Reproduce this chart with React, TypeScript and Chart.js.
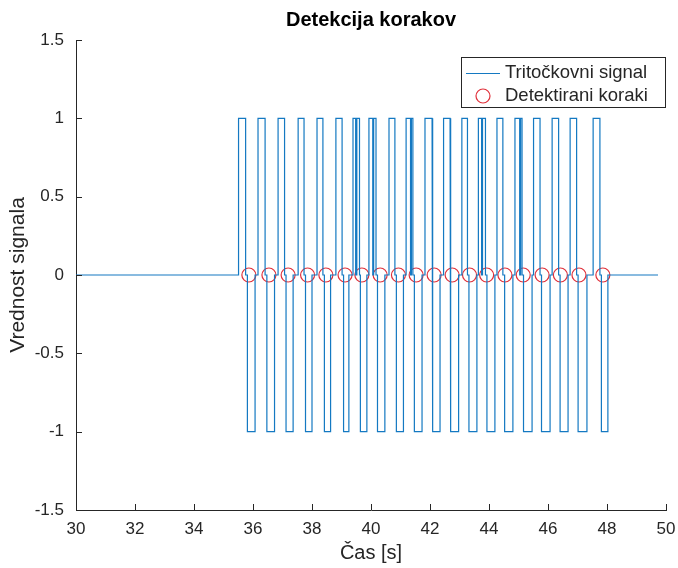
import React, { useEffect, useRef } from "react";
import { Chart, registerables } from "chart.js";

Chart.register(...registerables);

// ---- text ----
const chartTitle = "Detekcija korakov";
const xTitle = "Čas [s]";
const yTitle = "Vrednost signala";
const seriesNames = ["Tritočkovni signal", "Detektirani koraki"];

// ---- tick labels ----
const xTicks = [30, 32, 34, 36, 38, 40, 42, 44, 46, 48, 50];
const yTicks = [-1.5, -1, -0.5, 0, 0.5, 1, 1.5];

// ---- three-point signal (s) ----
const signalStart = 30.0;
const signalEnd = 49.73;
const highStart = [35.51, 36.17, 36.85, 37.53, 38.17, 38.81, 39.39, 39.93, 40.61, 41.19, 41.83, 42.46, 43.08, 43.64, 44.27, 44.88, 45.51, 46.14, 46.75, 47.53];
const highEnd = [35.75, 36.41, 37.07, 37.73, 38.37, 39.02, 39.61, 40.17, 40.81, 41.42, 42.07, 42.68, 43.27, 43.88, 44.47, 45.12, 45.73, 46.36, 46.97, 47.76];
const lowStart = [35.81, 36.47, 37.12, 37.78, 38.42, 39.07, 39.64, 40.22, 40.86, 41.47, 42.10, 42.71, 43.32, 43.93, 44.53, 45.17, 45.78, 46.41, 47.02, 47.81];
const lowEnd = [36.07, 36.73, 37.36, 38.0, 38.63, 39.25, 39.86, 40.47, 41.10, 41.73, 42.34, 42.97, 43.59, 44.20, 44.81, 45.46, 46.07, 46.68, 47.32, 48.03];
// short drops to 0 inside some of the +1 pulses
const dipStart = [39.48, 40.06, 41.34, 43.75, 45.04];
const dipEnd = [39.52, 40.09, 41.37, 43.78, 45.07];

// ---- detected steps ----
const stepTimes = [35.86, 36.54, 37.19, 37.85, 38.47, 39.12, 39.69, 40.31, 40.93, 41.53, 42.14, 42.75, 43.34, 43.92, 44.54, 45.16, 45.80, 46.42, 47.05, 47.86];
const stepValues = [0, 0, 0, 0, 0, 0, 0, 0, 0, 0, 0, 0, 0, 0, 0, 0, 0, 0, 0, 0];

const LINE_COLOR = "#1479c2";
const MARK_COLOR = "#E0303A";
const AXIS_COLOR = "#262626";
const FONT = "'Liberation Sans', Arial, Helvetica, sans-serif";

function buildSignal() {
  const pts: { x: number; y: number }[] = [{ x: signalStart, y: 0 }];
  for (let i = 0; i < highStart.length; i++) {
    pts.push({ x: highStart[i], y: 0 }, { x: highStart[i], y: 1 });
    for (let d = 0; d < dipStart.length; d++) {
      if (dipStart[d] > highStart[i] && dipStart[d] < highEnd[i]) {
        pts.push({ x: dipStart[d], y: 1 }, { x: dipStart[d], y: 0 }, { x: dipEnd[d], y: 0 }, { x: dipEnd[d], y: 1 });
      }
    }
    pts.push({ x: highEnd[i], y: 1 }, { x: highEnd[i], y: 0 });
    pts.push({ x: lowStart[i], y: 0 }, { x: lowStart[i], y: -1 });
    pts.push({ x: lowEnd[i], y: -1 }, { x: lowEnd[i], y: 0 });
  }
  pts.push({ x: signalEnd, y: 0 });
  return pts;
}

const matlabAxes = {
  id: "matlabAxes",
  afterDatasetsDraw(chart: any) {
    const { ctx, chartArea, scales } = chart;
    ctx.save();
    ctx.strokeStyle = AXIS_COLOR;
    ctx.lineWidth = 1;
    const tl = 6;
    ctx.beginPath();
    xTicks.forEach((v) => {
      const px = Math.round(scales.x.getPixelForValue(v)) + 0.5;
      ctx.moveTo(px, chartArea.bottom);
      ctx.lineTo(px, chartArea.bottom - tl);
    });
    yTicks.forEach((v) => {
      const py = Math.round(scales.y.getPixelForValue(v)) + 0.5;
      ctx.moveTo(chartArea.left, py);
      ctx.lineTo(chartArea.left + tl, py);
    });
    ctx.stroke();

    // title, centred over the axes
    ctx.fillStyle = "#000000";
    ctx.font = "bold 20px " + FONT;
    ctx.textAlign = "center";
    ctx.textBaseline = "middle";
    ctx.fillText(chartTitle, (chartArea.left + chartArea.right) / 2, chartArea.top - 20);

    // legend
    const boxR = chartArea.right;
    const boxT = chartArea.top + 17;
    const boxL = boxR - 205;
    const boxB = boxT + 51;
    ctx.fillStyle = "#ffffff";
    ctx.fillRect(boxL, boxT, boxR - boxL, boxB - boxT);
    ctx.strokeStyle = AXIS_COLOR;
    ctx.lineWidth = 1;
    ctx.strokeRect(boxL + 0.5, boxT + 0.5, boxR - boxL - 1, boxB - boxT - 1);
    const row1 = boxT + 16;
    const row2 = boxT + 39;
    ctx.strokeStyle = LINE_COLOR;
    ctx.lineWidth = 1.2;
    ctx.beginPath();
    ctx.moveTo(boxL + 5, row1 + 0.5);
    ctx.lineTo(boxL + 39, row1 + 0.5);
    ctx.stroke();
    ctx.strokeStyle = MARK_COLOR;
    ctx.beginPath();
    ctx.arc(boxL + 22, row2, 7, 0, Math.PI * 2);
    ctx.stroke();
    ctx.fillStyle = AXIS_COLOR;
    ctx.font = "18.5px " + FONT;
    ctx.textBaseline = "middle";
    ctx.textAlign = "left";
    ctx.fillText(seriesNames[0], boxL + 44, row1);
    ctx.fillText(seriesNames[1], boxL + 44, row2);
    ctx.restore();
  },
};

export default function App() {
  const ref = useRef<HTMLCanvasElement | null>(null);
  useEffect(() => {
    if (!ref.current) return;
    const chart = new Chart(ref.current, {
      type: "scatter",
      data: {
        datasets: [
          {
            label: seriesNames[0],
            data: buildSignal(),
            showLine: true,
            borderColor: LINE_COLOR,
            borderWidth: 1.2,
            pointRadius: 0,
            tension: 0,
            fill: false,
          },
          {
            label: seriesNames[1],
            data: stepTimes.map((t, i) => ({ x: t, y: stepValues[i] })),
            showLine: false,
            pointStyle: "circle",
            pointRadius: 7,
            borderColor: MARK_COLOR,
            backgroundColor: "rgba(0,0,0,0)",
            borderWidth: 1.2,
          },
        ],
      },
      options: {
        responsive: false,
        animation: false,
        layout: { padding: { left: 0, right: 12, top: 40, bottom: 0 } },
        plugins: {
          legend: { display: false },
          tooltip: { enabled: false },
          title: { display: false },
        },
        scales: {
          x: {
            type: "linear",
            min: 30,
            max: 50,
            afterBuildTicks: (s: any) => {
              s.ticks = xTicks.map((v) => ({ value: v }));
            },
            afterFit: (s: any) => {
              s.height = 58;
              s.paddingLeft = 0;
              s.paddingRight = 0;
            },
            grid: { display: false, drawTicks: false },
            border: { display: true, color: AXIS_COLOR, width: 1 },
            ticks: {
              padding: 9,
              color: AXIS_COLOR,
              font: { family: FONT, size: 17 },
              maxRotation: 0,
              callback: (v: any) => String(v),
            },
            title: {
              display: true,
              text: xTitle,
              color: AXIS_COLOR,
              font: { family: FONT, size: 20 },
              padding: { top: 0, bottom: 3 },
            },
          },
          y: {
            type: "linear",
            min: -1.5,
            max: 1.5,
            afterBuildTicks: (s: any) => {
              s.ticks = yTicks.map((v) => ({ value: v }));
            },
            afterFit: (s: any) => {
              s.width = 76;
              s.paddingTop = 0;
              s.paddingBottom = 0;
            },
            grid: { display: false, drawTicks: false },
            border: { display: true, color: AXIS_COLOR, width: 1 },
            ticks: {
              padding: 12,
              color: AXIS_COLOR,
              font: { family: FONT, size: 17 },
              callback: (v: any) => String(v),
            },
            title: {
              display: true,
              text: yTitle,
              color: AXIS_COLOR,
              font: { family: FONT, size: 21 },
              padding: { top: 6, bottom: 0 },
            },
          },
        },
      },
      plugins: [matlabAxes],
    });
    return () => chart.destroy();
  }, []);

  return (
    <div style={{ position: "absolute", left: 0, top: 0, width: 678, height: 568, background: "#ffffff" }}>
      <canvas ref={ref} width={678} height={568} style={{ display: "block" }} />
    </div>
  );
}
